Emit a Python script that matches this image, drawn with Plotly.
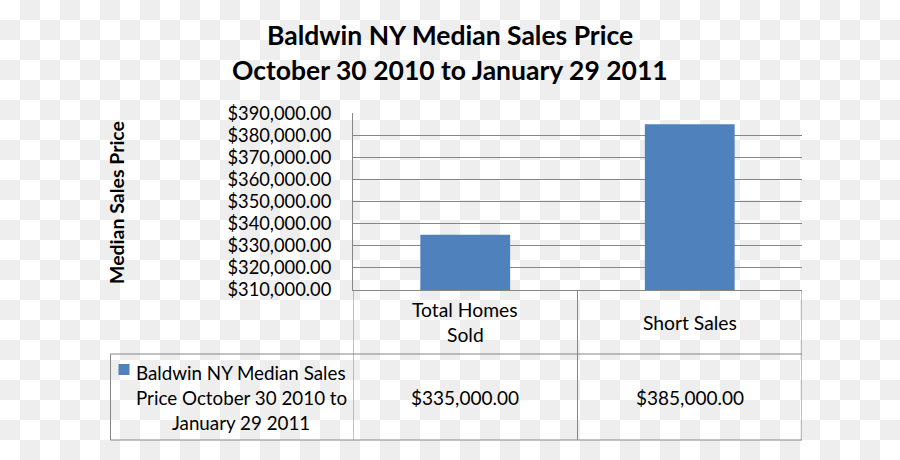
import numpy as np
import plotly.graph_objects as go

# ---- data ----
categories = ["Total Homes Sold", "Short Sales"]
category_label_lines = [["Total Homes", "Sold"], ["Short Sales"]]
values = [335000, 385000]
series_label_lines = ["Baldwin NY Median Sales", "Price October 30 2010 to", "January 29 2011"]
title_lines = ["Baldwin NY Median Sales Price", "October 30 2010 to January 29 2011"]
y_title = "Median Sales Price"
y_min, y_max, y_step = 310000, 390000, 10000

W, H = 900, 460
FONT = "Lato"
BAR = "#4F81BD"
GRID = "#868686"

# plot area in pixels
px_l, px_r, px_t, px_b = 353, 802, 113.3, 290
row1_b, row2_b = 354, 440
legend_l = 110.5

def fx(p):
    return p / W

def fy(p):
    return 1 - p / H

fig = go.Figure()

# checkered transparency background
nx, ny = W // 20 + 1, H // 20 + 1
ii, jj = np.meshgrid(np.arange(nx), np.arange(ny))
z = ((ii + jj) % 2).astype(float)
fig.add_trace(go.Heatmap(
    z=z, x=np.arange(nx) * 20 + 10, y=np.arange(ny) * 20 + 10,
    colorscale=[[0, "#ffffff"], [1, "#eeeeee"]], showscale=False,
    hoverinfo="skip", zsmooth=False, xaxis="x", yaxis="y"))

fig.add_trace(go.Bar(
    x=categories, y=values, marker=dict(color=BAR, line=dict(width=0)),
    width=0.4, xaxis="x2", yaxis="y2", hoverinfo="skip", showlegend=False))

fig.update_layout(
    template="none",
    width=W, height=H, margin=dict(l=0, r=0, t=0, b=0, pad=0, autoexpand=False),
    paper_bgcolor="white", plot_bgcolor="rgba(0,0,0,0)",
    showlegend=False,
    font=dict(family=FONT, size=19, color="#000000"),
    xaxis=dict(domain=[0, 1], range=[0, W], visible=False, fixedrange=True, automargin=False),
    yaxis=dict(domain=[0, 1], range=[H, 0], visible=False, fixedrange=True, automargin=False),
    xaxis2=dict(domain=[fx(px_l), fx(px_r)], anchor="y2", range=[-0.5, len(categories) - 0.5],
                showticklabels=False, showgrid=False, showline=True, linecolor=GRID,
                linewidth=1, ticks="", zeroline=False, automargin=False),
    yaxis2=dict(domain=[fy(px_b), fy(px_t)], anchor="x2", range=[y_min, y_max],
                dtick=y_step, tick0=y_min, tickformat="$,.2f", showgrid=True,
                gridcolor=GRID, gridwidth=1, showline=True, linecolor=GRID, linewidth=1,
                ticks="", ticklabelstandoff=17, zeroline=False, automargin=False,
                tickfont=dict(family=FONT, size=18.3, color="#000000")),
)

shapes = []
line = dict(color=GRID, width=1)
# vertical table lines at category boundaries
for k in range(len(categories) + 1):
    xb = k - 0.5
    shapes.append(dict(type="line", xref="x2", yref="paper", x0=xb, x1=xb,
                       y0=fy(px_b), y1=fy(row2_b), line=line))
# legend cell left border
shapes.append(dict(type="line", xref="paper", yref="paper", x0=fx(legend_l), x1=fx(legend_l),
                   y0=fy(row1_b), y1=fy(row2_b), line=line))
# horizontal table lines
for yy in (row1_b, row2_b):
    shapes.append(dict(type="line", xref="paper", yref="paper", x0=fx(legend_l), x1=fx(px_r),
                       y0=fy(yy), y1=fy(yy), line=line))
# legend key
shapes.append(dict(type="rect", xref="paper", yref="paper", x0=fx(118.5), x1=fx(129.5),
                   y0=fy(375), y1=fy(364), fillcolor=BAR, line=dict(width=0)))
fig.update_layout(shapes=shapes)

ann = []
# titles
for t, yc in zip(title_lines, (35, 70)):
    ann.append(dict(text="<b>%s</b>" % t, xref="paper", yref="paper", x=fx(450), y=fy(yc),
                    showarrow=False, xanchor="center", yanchor="middle",
                    font=dict(family=FONT, size=26.5, color="#000000")))
# y axis title
ann.append(dict(text="<b>%s</b>" % y_title, xref="paper", yref="paper", x=fx(116), y=fy(203),
                textangle=-90, showarrow=False, xanchor="center", yanchor="middle",
                font=dict(family=FONT, size=19.5, color="#000000")))
# category labels (table header row)
row1_c = (px_b + row1_b) / 2
for cat, lines in zip(categories, category_label_lines):
    n = len(lines)
    for i, ln in enumerate(lines):
        yc = row1_c + (i - (n - 1) / 2) * 25
        ann.append(dict(text=ln, xref="x2", yref="paper", x=cat, y=fy(yc),
                        showarrow=False, xanchor="center", yanchor="middle",
                        font=dict(family=FONT, size=19.3, color="#000000")))
# values row
row2_c = (row1_b + row2_b) / 2
for cat, v in zip(categories, values):
    ann.append(dict(text="${:,.2f}".format(v), xref="x2", yref="paper", x=cat, y=fy(row2_c),
                    showarrow=False, xanchor="center", yanchor="middle",
                    font=dict(family=FONT, size=19, color="#000000")))
# series label in legend cell
n = len(series_label_lines)
for i, ln in enumerate(series_label_lines):
    yc = row2_c + (i - (n - 1) / 2) * 25
    ann.append(dict(text=ln, xref="paper", yref="paper", x=fx(241), y=fy(yc),
                    showarrow=False, xanchor="center", yanchor="middle",
                    font=dict(family=FONT, size=18.8, color="#000000")))
fig.update_layout(annotations=ann)

fig.write_html("out.html", config={"displayModeBar": False})
